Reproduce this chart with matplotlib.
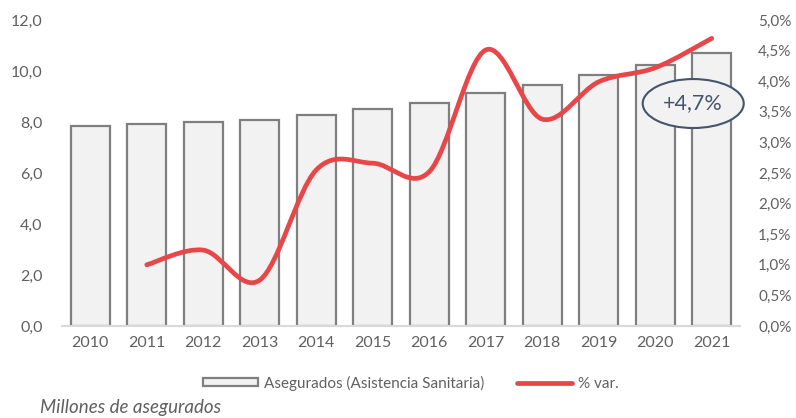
import matplotlib.pyplot as plt
import numpy as np
from matplotlib.path import Path
from matplotlib.patches import PathPatch, Patch, Ellipse
from matplotlib.lines import Line2D
from matplotlib.ticker import FuncFormatter

years = ['2010', '2011', '2012', '2013', '2014', '2015', '2016', '2017', '2018', '2019', '2020', '2021']
asegurados = [7.84, 7.92, 8.0, 8.08, 8.27, 8.5, 8.76, 9.15, 9.44, 9.84, 10.24, 10.7]
pct_years = ['2011', '2012', '2013', '2014', '2015', '2016', '2017', '2018', '2019', '2020', '2021']
pct_var = [1.0, 1.24, 0.75, 2.55, 2.66, 2.52, 4.51, 3.38, 3.99, 4.22, 4.7]

plt.rcParams['font.family'] = ['Lato', 'DejaVu Sans']
GREY = '#606060'
RED = '#e8474a'
NAVY = '#44546a'


def smooth_path(xs, ys):
    """Excel-style smoothed line as cubic Bezier segments (Catmull-Rom)"""
    pts = np.column_stack([xs, ys]).astype(float)
    n = len(pts)
    verts = [pts[0]]
    codes = [Path.MOVETO]
    for i in range(n - 1):
        p0 = pts[i - 1] if i > 0 else pts[i]
        p1 = pts[i]
        p2 = pts[i + 1]
        p3 = pts[i + 2] if i + 2 < n else pts[i + 1]
        c1 = p1 + (p2 - p0) / 6
        c2 = p2 - (p3 - p1) / 6
        verts += [c1, c2, p2]
        codes += [Path.CURVE4] * 3
    return Path(verts, codes)


fig = plt.figure(figsize=(7.96, 4.18), dpi=100)
ax = fig.add_axes([62 / 796, 1 - 326 / 418, 678 / 796, 306 / 418])
x = np.arange(len(years))

ax.bar(x, asegurados, width=0.69, color='#f2f2f2', edgecolor='#7f7f7f', linewidth=1.6, zorder=2)
ax.set_xlim(-0.5, len(years) - 0.5)
ax.set_ylim(0, 12)
ax.set_yticks(np.arange(0, 12.1, 2))
ax.yaxis.set_major_formatter(FuncFormatter(lambda v, p: f'{v:.1f}'.replace('.', ',')))
ax.set_xticks(x)
ax.set_xticklabels(years)

ax2 = ax.twinx()
ax2.set_ylim(0, 5)
ax2.set_yticks(np.arange(0, 5.01, 0.5))
ax2.yaxis.set_major_formatter(FuncFormatter(lambda v, p: f'{v:.1f}%'.replace('.', ',')))
px = [years.index(y) for y in pct_years]
ax2.add_patch(PathPatch(smooth_path(px, pct_var), facecolor='none', edgecolor=RED,
                        linewidth=3.4, capstyle='round', zorder=3))

for a in (ax, ax2):
    for s in a.spines.values():
        s.set_visible(False)
    a.tick_params(length=0, colors=GREY, labelsize=11.5)
ax.spines['bottom'].set_visible(True)
ax.spines['bottom'].set_color('#d9d9d9')
ax.spines['bottom'].set_linewidth(1.5)
ax.tick_params(axis='y', pad=14)
ax.tick_params(axis='x', pad=7)
ax2.tick_params(axis='y', pad=13, labelsize=11)

ax2.add_patch(Ellipse((0.931, 0.727), 0.149, 0.16, transform=ax2.transAxes, clip_on=False,
                      facecolor='#f2f2f2', edgecolor=NAVY, linewidth=1.5, zorder=5))
ax2.text(0.931, 0.727, '+4,7%', transform=ax2.transAxes, ha='center', va='center',
         fontsize=15.5, color=NAVY, zorder=6)

handles = [Patch(facecolor='#f2f2f2', edgecolor='#7f7f7f', linewidth=1.6),
           Line2D([], [], color=RED, linewidth=3.4, solid_capstyle='round')]
fig.legend(handles, ['Asegurados (Asistencia Sanitaria)', '% var.'], loc='center',
           bbox_to_anchor=(0.516, 1 - 383 / 418), ncol=2, frameon=False, fontsize=11,
           handlelength=3.6, handleheight=0.45, handletextpad=0.4, columnspacing=2.1,
           labelcolor=GREY)

fig.text(40 / 796, 1 - 408 / 418, 'Millones de asegurados', fontsize=13.5, style='italic',
         color=GREY, va='center', ha='left')

fig.savefig('out.png', dpi=100)
